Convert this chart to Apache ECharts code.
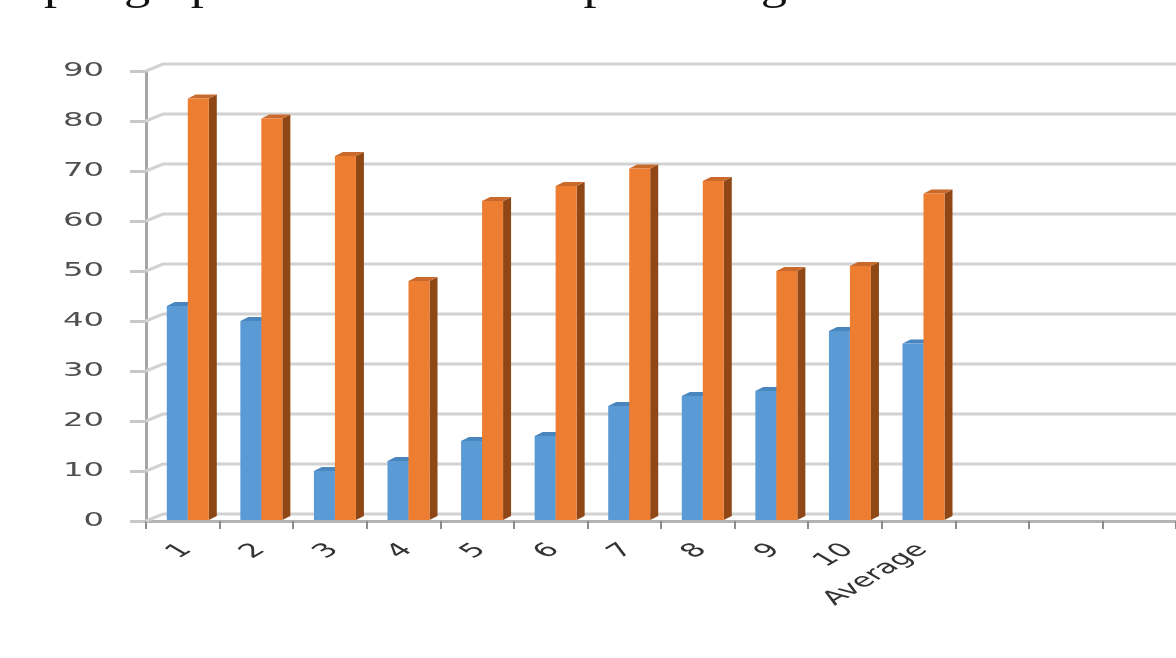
<!DOCTYPE html>
<html>
<head>
<meta charset="utf-8">
<script src="https://cdn.jsdelivr.net/npm/echarts@6/dist/echarts.min.js"></script>
<style>
html,body{margin:0;padding:0;background:#fff;}
#c{width:1176px;height:658px;}
</style>
</head>
<body>
<div id="c"></div>
<script>
var categories = ['1','2','3','4','5','6','7','8','9','10','Average','','',''];
var seriesBlue = [43, 40, 10, 12, 16, 17, 23, 25, 26, 38, 35.5];
var seriesOrange = [84.5, 80.5, 73, 48, 64, 67, 70.5, 68, 50, 51, 65.5];
var yTicks = [0, 10, 20, 30, 40, 50, 60, 70, 80, 90];
var headingText = 'par graph shows the total percentage share of students in';

var DX = 17, DY = -7, STRETCH = 1.7;

function barItem(seriesIdx, front, side, top) {
  return function (params, api) {
    var idx = api.value(0), val = api.value(1);
    var c = api.coord([idx, val]);
    var b = api.coord([idx, 0]);
    var w = 21, sd = 8, dy = 4;
    var x0 = c[0] - 16 + seriesIdx * w;
    var yT = c[1], yB = b[1] - 1;
    return {
      type: 'group',
      children: [
        {type: 'polygon', shape: {points: [[x0 + w, yT], [x0 + w + sd, yT - dy], [x0 + w + sd, yB - dy], [x0 + w, yB]]}, style: {fill: side}},
        {type: 'polygon', shape: {points: [[x0, yT], [x0 + sd, yT - dy], [x0 + w + sd, yT - dy], [x0 + w, yT]]}, style: {fill: top}},
        {type: 'rect', shape: {x: x0, y: yT, width: w, height: yB - yT}, style: {fill: front}}
      ]
    };
  };
}

var chart = echarts.init(document.getElementById('c'));
chart.setOption({
  animation: false,
  backgroundColor: '#ffffff',
  graphic: [{
    type: 'text', x: 44, y: -35, scaleX: 1.19, scaleY: 1, originX: 0, originY: 0,
    style: {text: headingText, font: '44px "Liberation Serif"', fill: '#111'}
  }],
  grid: {left: 146, right: -10, top: 71, bottom: 137, containLabel: false},
  xAxis: {
    type: 'category', data: categories,
    axisLine: {show: true, lineStyle: {color: '#b3b3b3', width: 3}},
    axisTick: {show: true, length: 8, interval: 0, lineStyle: {color: '#8c8c8c', width: 2}},
    axisLabel: {show: false}
  },
  yAxis: {
    type: 'value', min: 0, max: 90, interval: 10,
    axisLine: {show: true, lineStyle: {color: '#a6a6a6', width: 3}},
    axisTick: {show: true, length: 16, lineStyle: {color: '#c8c8c8', width: 3}},
    splitLine: {show: false},
    axisLabel: {show: false}
  },
  series: [
    {
      type: 'custom', silent: true, z: 1,
      data: yTicks.map(function (v) { return [0, v]; }),
      renderItem: function (params, api) {
        var y = api.coord([0, api.value(1)])[1];
        var cs = params.coordSys;
        return {
          type: 'polyline',
          shape: {points: [[cs.x, y], [cs.x + DX, y + DY], [cs.x + cs.width + 30, y + DY]]},
          style: {stroke: '#d2d2d2', lineWidth: 3, fill: null}
        };
      }
    },
    {
      /* y-axis tick labels (stretched like the source image) */
      type: 'custom', silent: true, z: 5,
      data: yTicks.map(function (v) { return [0, v]; }),
      renderItem: function (params, api) {
        var v = api.value(1);
        var y = api.coord([0, v])[1];
        var cs = params.coordSys;
        return {
          type: 'group', x: cs.x - 42, y: y, scaleX: STRETCH,
          children: [{
            type: 'text',
            style: {text: String(v), align: 'right', verticalAlign: 'middle',
                    font: '19px "DejaVu Sans"', fill: '#505050'}
          }]
        };
      }
    },
    {
      /* x-axis category labels, rotated then stretched */
      type: 'custom', silent: true, z: 5,
      data: categories.map(function (c, i) { return [i, 0]; }),
      renderItem: function (params, api) {
        var i = api.value(0);
        var txt = categories[i];
        if (!txt) return null;
        var p = api.coord([i, 0]);
        return {
          type: 'group', x: p[0] + 4, y: p[1] + 26, scaleX: STRETCH,
          children: [{
            type: 'text', rotation: Math.PI / 4,
            style: {text: txt, align: 'right', verticalAlign: 'middle',
                    font: '19px "DejaVu Sans"', fill: '#333333'}
          }]
        };
      }
    },
    {
      type: 'custom', z: 3,
      data: seriesBlue.map(function (v, i) { return [i, v]; }),
      renderItem: barItem(0, '#5B9BD5', '#3F76A8', '#4A86BE')
    },
    {
      type: 'custom', z: 4,
      data: seriesOrange.map(function (v, i) { return [i, v]; }),
      renderItem: barItem(1, '#ED7D31', '#8F4716', '#C96A2C')
    }
  ]
});
</script>
</body>
</html>
